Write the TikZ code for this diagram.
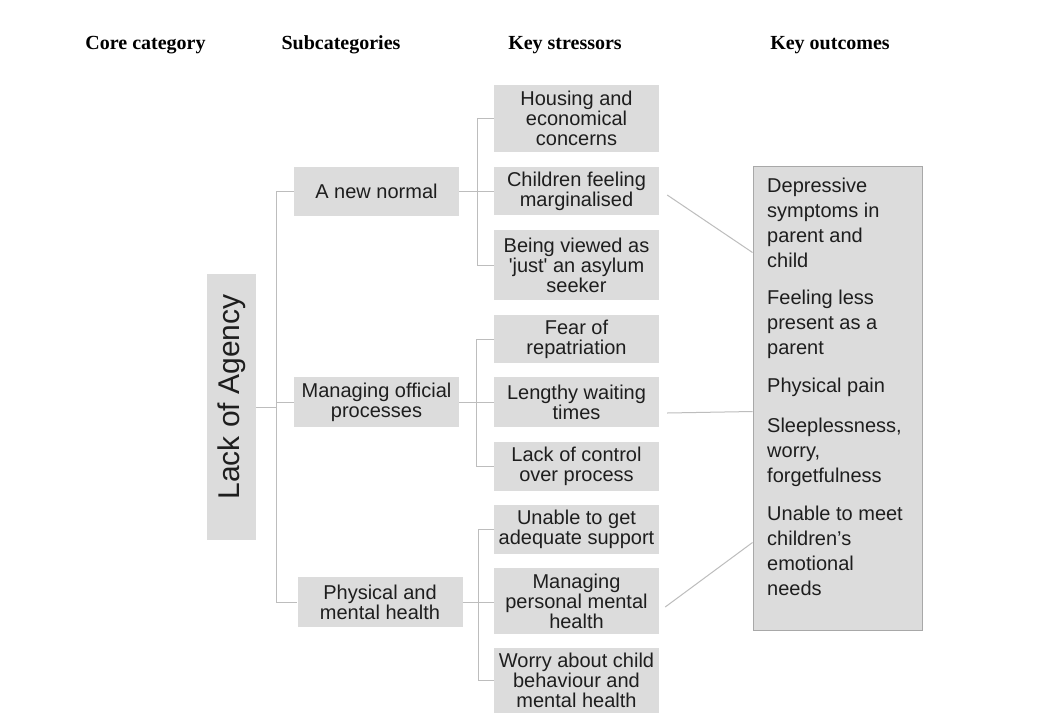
\documentclass[tikz,border=0pt]{standalone}
\usepackage{fontspec}
\setmainfont{Liberation Serif}
\newfontfamily\arialfont{Liberation Sans}
\definecolor{boxfill}{HTML}{DCDCDC}
\definecolor{linegray}{HTML}{BDBDBD}
\definecolor{framegray}{HTML}{A8A8A8}
\definecolor{ink}{HTML}{1E1E1E}
\begin{document}
\begin{tikzpicture}[x=1pt,y=-1pt,
  head/.style={font=\bfseries\fontsize{20}{24}\selectfont, anchor=base, inner sep=0pt, text=black},
  box/.style={fill=boxfill, inner sep=0pt, minimum width=165pt, align=center, text=ink,
    font=\arialfont\fontsize{20}{20}\selectfont},
  conn/.style={draw=linegray, line width=1pt}]
\useasboundingbox[fill=white] (0,0) rectangle (1042,713);

% column headings
\node[head] (h1) at (145.5,49) {Core category};
\node[head] (h2) at (341,49) {Subcategories};
\node[head] (h3) at (565,49) {Key stressors};
\node[head] (h4) at (830,49) {Key outcomes};

% core category
\node[box, minimum width=49pt, minimum height=266pt] (core) at (231.5,407) {};
\node[rotate=90, inner sep=0pt, text=ink, font=\arialfont\fontsize{30}{30}\selectfont]
  (coretext) at (232,397) {Lack of Agency};

% subcategories
\node[box, minimum height=49pt] (a1) at (376.5,191.5) {A new normal};
\node[box, minimum height=50pt] (a2) at (376.5,402) {Managing official\\processes};
\node[box, minimum height=50pt] (a3) at (380,602) {Physical and\\mental health};

% key stressors
\node[box, minimum height=67pt] (s1) at (576.5,118.5) {Housing and\\economical\\concerns};
\node[box, minimum height=48pt] (s2) at (576.5,191) {Children feeling\\marginalised};
\node[box, minimum height=70pt] (s3) at (576.5,265) {Being viewed as\\\textquotesingle just\textquotesingle\ an asylum\\seeker};
\node[box, minimum height=48pt] (s4) at (576.5,339) {Fear of\\repatriation};
\node[box, minimum height=50pt] (s5) at (576.5,402) {Lengthy waiting\\times};
\node[box, minimum height=49pt] (s6) at (576.5,466.5) {Lack of control\\over process};
\node[box, minimum height=49pt] (s7) at (576.5,529.5) {Unable to get\\adequate support};
\node[box, minimum height=66pt] (s8) at (576.5,601) {Managing\\personal mental\\health};
\node[box, minimum height=65pt] (s9) at (576.5,680.5) {Worry about child\\behaviour and\\mental health};

% key outcomes
\node[fill=boxfill, draw=framegray, line width=1pt, inner sep=0pt,
  minimum width=169pt, minimum height=464pt] (out) at (837.5,398) {};
\node[anchor=north west, inner sep=0pt, align=left, text=ink,
  font=\arialfont\fontsize{20}{25}\selectfont] (outtext) at (767,177.6)
  {Depressive\\symptoms in\\parent and\\child\\[12pt]%
   Feeling less\\present as a\\parent\\[13pt]%
   Physical pain\\[15pt]%
   Sleeplessness,\\worry,\\forgetfulness\\[13pt]%
   Unable to meet\\children’s\\emotional\\needs};

% core to subcategories
\coordinate (spine) at (276,0);
\draw[conn] (core.east) -- (core.east -| spine);
\draw[conn] (a1.west) -- (a1.west -| spine) -- (a3.west -| spine) -- (a3.west);
\draw[conn] (a2.west) -- (a2.west -| spine);

% subcategories to stressors
\coordinate (k1) at (477,0);
\coordinate (k2) at (476,0);
\coordinate (k3) at (478,0);
\draw[conn] (s1.west) -- (s1.west -| k1) -- (s3.west -| k1) -- (s3.west);
\draw[conn] (a1.east) -- (a1.east -| s2.west);
\draw[conn] (s4.west) -- (s4.west -| k2) -- (s6.west -| k2) -- (s6.west);
\draw[conn] (a2.east) -- (s5.west);
\draw[conn] (s7.west) -- (s7.west -| k3) -- (s9.west -| k3) -- (s9.west);
\draw[conn] (a3.east) -- (a3.east -| s8.west);

% stressors to outcomes
\draw[conn] ([shift={(8,4)}]s2.east) -- ([shift={(0,87)}]out.north west);
\draw[conn] ([shift={(8,11)}]s5.east) -- ([shift={(0,246)}]out.north west);
\draw[conn] ([shift={(6,6)}]s8.east) -- ([shift={(0,377)}]out.north west);
\end{tikzpicture}
\end{document}
